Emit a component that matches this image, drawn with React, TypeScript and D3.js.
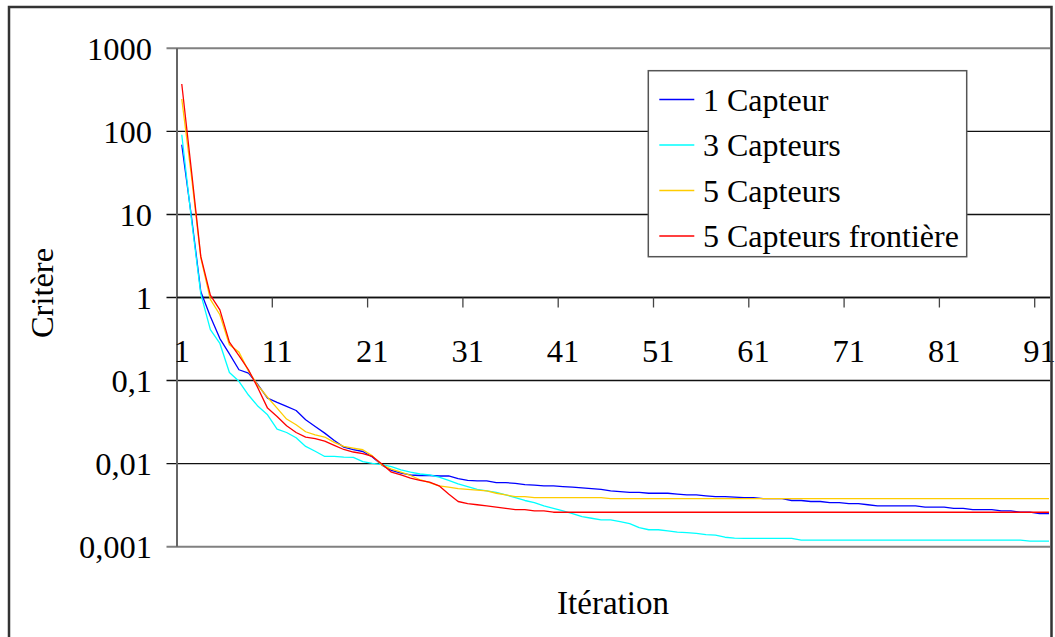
import React from 'react';
import * as d3 from 'd3';

const iterations: number[] = Array.from({ length: 92 }, (_, i) => i + 1);
const xTickLabels = ['1', '11', '21', '31', '41', '51', '61', '71', '81', '91'];
const yTickValues = [0.001, 0.01, 0.1, 1, 10, 100, 1000];
const yTickLabels = ['0,001', '0,01', '0,1', '1', '10', '100', '1000'];

const capteur1 = [
  69, 9.7, 1.17, 0.59, 0.32, 0.21, 0.135, 0.123, 0.089, 0.0615,
  0.0545, 0.0488, 0.0436, 0.0337, 0.028, 0.0233, 0.019, 0.0158, 0.0147, 0.014,
  0.012, 0.0096, 0.0083, 0.0077, 0.0073, 0.0072, 0.0072, 0.0071, 0.0071, 0.0066,
  0.0063, 0.0062, 0.0062, 0.0059, 0.0059, 0.0058, 0.0056, 0.0055, 0.0054, 0.0054,
  0.0053, 0.0052, 0.0051, 0.005, 0.0049, 0.0047, 0.0046, 0.0045, 0.0045, 0.0044,
  0.0044, 0.0044, 0.0043, 0.0042, 0.0042, 0.0041, 0.004, 0.004, 0.00395, 0.0039,
  0.0039, 0.0038, 0.0038, 0.0038, 0.0036, 0.0036, 0.0035, 0.0035, 0.0034, 0.0034,
  0.0033, 0.0033, 0.0032, 0.0031, 0.0031, 0.0031, 0.0031, 0.0031, 0.003, 0.003,
  0.003, 0.0029, 0.0029, 0.0028, 0.0028, 0.0028, 0.0027, 0.0027, 0.0026, 0.0026,
  0.0025, 0.0025,
];

const capteurs3 = [
  91, 9, 1.1, 0.41, 0.28, 0.125, 0.098, 0.067, 0.049, 0.0387,
  0.026, 0.0237, 0.0205, 0.0161, 0.0141, 0.0122, 0.0122, 0.012, 0.0119, 0.0106,
  0.0101, 0.0097, 0.0092, 0.0084, 0.0079, 0.0075, 0.0073, 0.0069, 0.0063, 0.0057,
  0.0053, 0.0049, 0.0047, 0.0045, 0.0042, 0.0039, 0.0036, 0.0034, 0.0031, 0.0029,
  0.0027, 0.0025, 0.0023, 0.0022, 0.0021, 0.0021, 0.002, 0.0019, 0.0017, 0.0016,
  0.0016, 0.00155, 0.0015, 0.00148, 0.00145, 0.0014, 0.00138, 0.0013, 0.00127, 0.00126,
  0.00126, 0.00126, 0.00126, 0.00126, 0.00126, 0.0012, 0.0012, 0.0012, 0.0012, 0.0012,
  0.0012, 0.0012, 0.0012, 0.0012, 0.0012, 0.0012, 0.0012, 0.0012, 0.0012, 0.0012,
  0.0012, 0.0012, 0.0012, 0.0012, 0.0012, 0.0012, 0.0012, 0.0012, 0.0012, 0.00117,
  0.00117, 0.00117,
];

const capteurs5 = [
  245, 30, 3.0, 0.95, 0.62, 0.27, 0.22, 0.13, 0.087, 0.063,
  0.0466, 0.0344, 0.0294, 0.0242, 0.0222, 0.0209, 0.018, 0.0161, 0.0154, 0.0147,
  0.0124, 0.0096, 0.0086, 0.0079, 0.0072, 0.0064, 0.0059, 0.0054, 0.0052, 0.005,
  0.0049, 0.0048, 0.0047, 0.0044, 0.0042, 0.004, 0.004, 0.0039, 0.0039, 0.0039,
  0.0039, 0.0039, 0.0039, 0.0039, 0.0039, 0.0038, 0.0038, 0.0038, 0.0038, 0.0038,
  0.0038, 0.0038, 0.0038, 0.0038, 0.0038, 0.0038, 0.0038, 0.0038, 0.0038, 0.0038,
  0.0038, 0.0038, 0.0038, 0.0038, 0.0038, 0.0038, 0.0038, 0.0038, 0.0038, 0.0038,
  0.0038, 0.0038, 0.0038, 0.0038, 0.0038, 0.0038, 0.0038, 0.0038, 0.0038, 0.0038,
  0.0038, 0.0038, 0.0038, 0.0038, 0.0038, 0.0038, 0.0038, 0.0038, 0.0038, 0.0038,
  0.0038, 0.0038,
];

const capteurs5Frontiere = [
  372, 35, 3.1, 1.07, 0.71, 0.29, 0.2, 0.135, 0.081, 0.0466,
  0.037, 0.0286, 0.0237, 0.0209, 0.02, 0.0187, 0.0166, 0.0148, 0.0138, 0.0132,
  0.0122, 0.0099, 0.0079, 0.0073, 0.0067, 0.0063, 0.006, 0.0054, 0.0043, 0.0035,
  0.0033, 0.0032, 0.0031, 0.003, 0.0029, 0.0028, 0.0028, 0.0027, 0.0027, 0.0026,
  0.0026, 0.0026, 0.0026, 0.0026, 0.0026, 0.0026, 0.0026, 0.0026, 0.0026, 0.0026,
  0.0026, 0.0026, 0.0026, 0.0026, 0.0026, 0.0026, 0.0026, 0.0026, 0.0026, 0.0026,
  0.0026, 0.0026, 0.0026, 0.0026, 0.0026, 0.0026, 0.0026, 0.0026, 0.0026, 0.0026,
  0.0026, 0.0026, 0.0026, 0.0026, 0.0026, 0.0026, 0.0026, 0.0026, 0.0026, 0.0026,
  0.0026, 0.0026, 0.0026, 0.0026, 0.0026, 0.0026, 0.0026, 0.0026, 0.0026, 0.0026,
  0.0026, 0.0026,
];

const seriesNames = ['1 Capteur', '3 Capteurs', '5 Capteurs', '5 Capteurs frontière'];
const seriesColors = ['#0000ff', '#00ffff', '#ffcc00', '#ff0000'];
const seriesValues = [capteur1, capteurs3, capteurs5, capteurs5Frontiere];

const FONT = '"Liberation Serif", "Times New Roman", serif';

export default function App() {
  const W = 1055;
  const H = 637;
  const L = 177;
  const T = 48.3;
  const B = 546.7;
  const bandW = 9.53;
  const clipR = 1050;

  const x = d3
    .scaleBand<number>()
    .domain(iterations)
    .range([L, L + iterations.length * bandW])
    .paddingInner(0)
    .paddingOuter(0);
  const cx = (k: number) => (x(k) as number) + x.bandwidth() / 2;
  const y = d3.scaleLog().domain([0.001, 1000]).range([B, T]);

  const line = d3
    .line<number>()
    .x((_, i) => cx(iterations[i]))
    .y((d) => y(d));

  const yAxisY = y(1);

  const legendX = 648.3;
  const legendY = 70.7;
  const legendW = 318.4;
  const legendH = 186;
  const rowYs = [99.5, 145, 190.5, 236];

  return (
    <svg
      width={W}
      height={H}
      style={{ position: 'fixed', left: 0, top: 0, background: '#fff', fontFamily: FONT }}
    >
      <defs>
        <clipPath id="plotClip">
          <rect x={L} y={T - 2} width={clipR - L} height={B - T + 4} />
        </clipPath>
      </defs>
      <rect x={0} y={0} width={W} height={H} fill="#fff" />

      {/* horizontal gridlines */}
      {yTickValues.map((v, i) => {
        const edge = i === 0 || i === yTickValues.length - 1;
        return (
          <line
            key={'g' + v}
            x1={L - 10.5}
            x2={clipR}
            y1={y(v)}
            y2={y(v)}
            stroke={edge ? '#808080' : '#111'}
            strokeWidth={edge ? 2 : 1.4}
          />
        );
      })}

      {/* y axis */}
      <line x1={L} x2={L} y1={T} y2={B} stroke="#666" strokeWidth={2} />
      {yTickValues.map((v, i) => (
        <text
          key={'yl' + v}
          x={152}
          y={y(v)}
          dy="0.35em"
          textAnchor="end"
          fontSize={32.5}
          fill="#000"
        >
          {yTickLabels[i]}
        </text>
      ))}

      {/* x axis crossing at 1 */}
      <line x1={L} x2={clipR} y1={yAxisY} y2={yAxisY} stroke="#111" strokeWidth={1.4} />
      {iterations
        .filter((k) => k > 1 && (k - 1) % 10 === 0)
        .map((k) => (
          <line
            key={'xt' + k}
            x1={x(k) as number}
            x2={x(k) as number}
            y1={yAxisY}
            y2={yAxisY + 10}
            stroke="#444"
            strokeWidth={1.3}
          />
        ))}
      {xTickLabels.map((lab) => {
        const k = +lab;
        return (
          <text
            key={'xl' + lab}
            x={cx(k)}
            y={361.5}
            textAnchor="middle"
            fontSize={32.5}
            fill="#000"
          >
            {lab}
          </text>
        );
      })}

      {/* series */}
      <g clipPath="url(#plotClip)">
        {seriesValues.map((vals, i) => (
          <path
            key={seriesNames[i]}
            d={line(vals) || ''}
            fill="none"
            stroke={seriesColors[i]}
            strokeWidth={1.3}
            strokeLinejoin="round"
          />
        ))}
      </g>

      {/* legend */}
      <rect
        x={legendX}
        y={legendY}
        width={legendW}
        height={legendH}
        fill="#fff"
        stroke="#555"
        strokeWidth={1.5}
      />
      {seriesNames.map((n, i) => (
        <g key={'lg' + n}>
          <line
            x1={659.3}
            x2={694.3}
            y1={rowYs[i]}
            y2={rowYs[i]}
            stroke={seriesColors[i]}
            strokeWidth={1.5}
          />
          <text x={703} y={rowYs[i]} dy="0.35em" fontSize={32} fill="#000">
            {n}
          </text>
        </g>
      ))}

      {/* axis titles */}
      <text
        transform="translate(53,293) rotate(-90)"
        textAnchor="middle"
        fontSize={32.5}
        fill="#000"
      >
        Critère
      </text>
      <text x={613} y={614} textAnchor="middle" fontSize={33} fill="#000">
        Itération
      </text>

      {/* outer border */}
      <rect x={9} y={7} width={1042.5} height={H + 10} fill="none" stroke="#333" strokeWidth={2.5} />
    </svg>
  );
}
